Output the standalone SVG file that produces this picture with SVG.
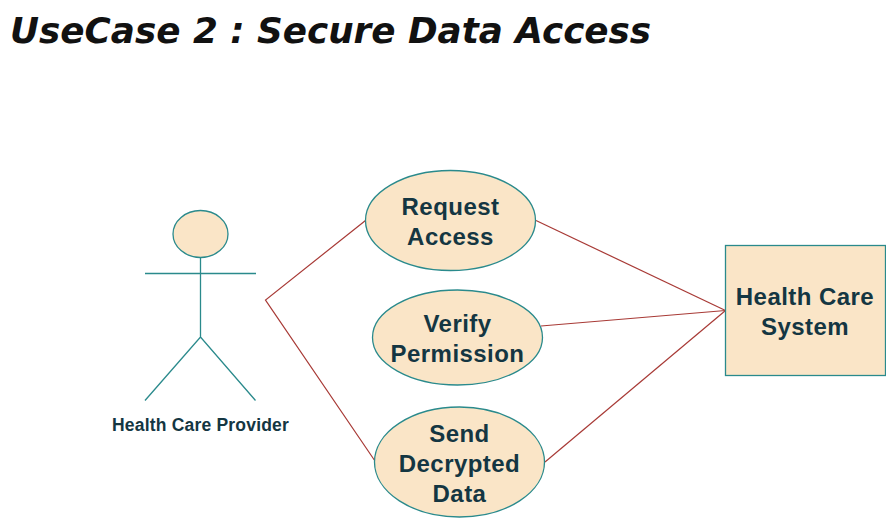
<svg xmlns="http://www.w3.org/2000/svg" width="886" height="518" viewBox="0 0 886 518">
<style>
.n{fill:#FAE5C7;stroke:#2A8A8C;stroke-width:1.3}
.a{fill:none;stroke:#2A8A8C;stroke-width:1.3}
.c{fill:none;stroke:#A83A36;stroke-width:1.2}
.t{font-family:"Liberation Sans",Arial,sans-serif;font-weight:bold;font-size:24px;letter-spacing:.45px;fill:#143642;text-anchor:middle}
</style>
<rect width="886" height="518" fill="#fff"/>
<text id="title" x="10" y="43" font-family="DejaVu Sans, sans-serif" font-weight="bold" font-style="italic" font-size="35.750px" fill="#111">UseCase 2 : Secure Data Access</text>
<g id="connectors">
<path class="c" d="M365.500 220.500L265.500 300L375 461"/>
<path class="c" d="M536 220.500L725.500 310.500"/>
<path class="c" d="M541 326L725.500 310.500"/>
<path class="c" d="M545 462L725.500 310.500"/>
</g>
<g id="actor">
<ellipse class="n" cx="200.500" cy="234" rx="27.500" ry="23.500"/>
<path class="a" d="M200.500 257.500V337M145 273.500H256M145 400.500L200.500 337L255.500 400.500"/>
<text class="t" x="200.500" y="430.500" style="font-size:17.500px;letter-spacing:.2px">Health Care Provider</text>
</g>
<g id="request">
<ellipse class="n" cx="450.500" cy="220.500" rx="85" ry="50"/>
<text class="t" x="450.500" y="215">Request</text>
<text class="t" x="450.500" y="245">Access</text>
</g>
<g id="verify">
<ellipse class="n" cx="457.500" cy="337.500" rx="85" ry="47.500"/>
<text class="t" x="457.500" y="332">Verify</text>
<text class="t" x="457.500" y="362">Permission</text>
</g>
<g id="send">
<ellipse class="n" cx="459.500" cy="462" rx="85" ry="55"/>
<text class="t" x="459.500" y="442">Send</text>
<text class="t" x="459.500" y="472">Decrypted</text>
<text class="t" x="459.500" y="502">Data</text>
</g>
<g id="system">
<rect class="n" x="725.500" y="245.500" width="160" height="130"/>
<text class="t" x="805" y="305">Health Care</text>
<text class="t" x="805" y="335">System</text>
</g>
</svg>
